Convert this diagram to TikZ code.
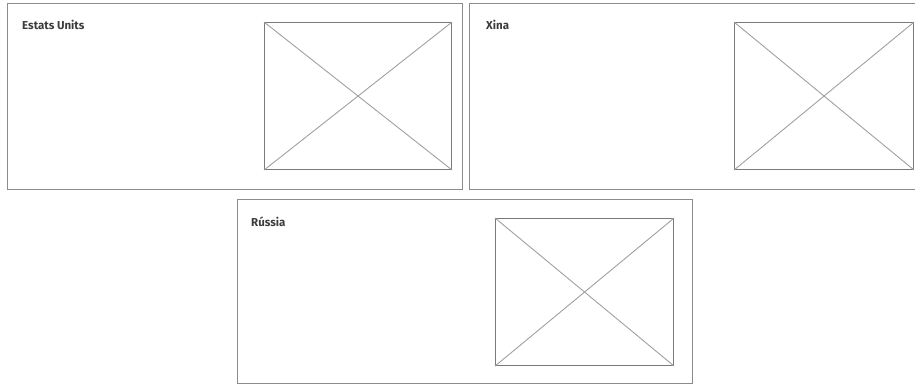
\documentclass[tikz,border=0pt]{standalone}
\usepackage{fontspec}
\setsansfont{Fira Sans}
\usetikzlibrary{positioning}
\definecolor{panelborder}{HTML}{8C8C8C}
\definecolor{photoframe}{HTML}{7A7A7A}
\definecolor{photoline}{HTML}{A0A0A0}
\definecolor{titletext}{HTML}{3C3C3C}

\begin{document}
\begin{tikzpicture}[
    x=1pt, y=-1pt,
    font=\sffamily,
    panel/.style={draw=panelborder, line width=1.3pt, minimum width=455pt, minimum height=#1, inner sep=0pt, anchor=north west},
    photo/.style={draw=photoframe, line width=1.1pt, minimum width=#1, minimum height=147pt, inner sep=0pt, anchor=north west},
    cross/.style={draw=photoline, line width=0.9pt},
    title/.style={text=titletext, font=\sffamily\bfseries\fontsize{11.5}{13}\selectfont, anchor=west, inner sep=0pt}
]
    \clip (0,0) rectangle (915,385);

    % Estats Units (top left)
    \node[panel=186pt] (usa) at (7,3) {};
    \node[title] (usatitle) at (22,25) {Estats Units};
    \node[photo=187pt] (usaimg) at (264,22) {};
    \draw[cross] (usaimg.north west) -- (usaimg.south east);
    \draw[cross] (usaimg.south west) -- (usaimg.north east);

    % Xina (top right)
    \node[panel=186pt] (xina) at (469,3) {};
    \node[title] (xinatitle) at (486,25) {Xina};
    \node[photo=179pt] (xinaimg) at (734,22) {};
    \draw[cross] (xinaimg.north west) -- (xinaimg.south east);
    \draw[cross] (xinaimg.south west) -- (xinaimg.north east);

    % Russia (bottom)
    \node[panel=184pt] (russia) at (237,199) {};
    \node[title] (russiatitle) at (251,222) {Rússia};
    \node[photo=178pt] (russiaimg) at (495,218) {};
    \draw[cross] (russiaimg.north west) -- (russiaimg.south east);
    \draw[cross] (russiaimg.south west) -- (russiaimg.north east);

\end{tikzpicture}
\end{document}
